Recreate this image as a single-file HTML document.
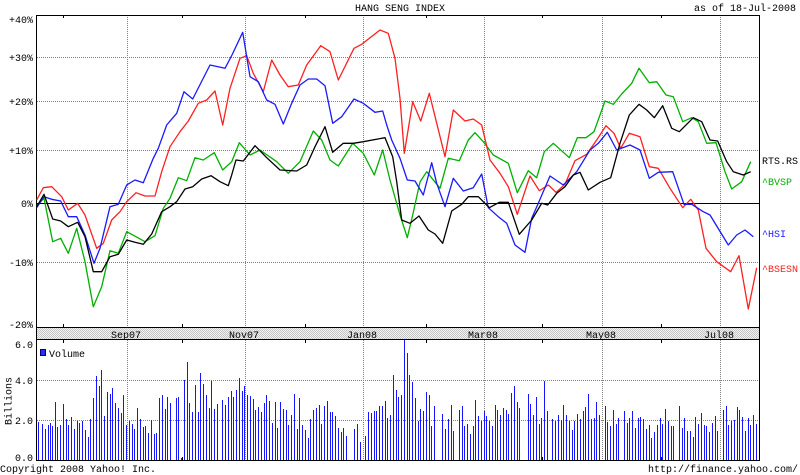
<!DOCTYPE html>
<html><head><meta charset="utf-8"><style>
html,body{margin:0;padding:0;background:#fff;}
svg{display:block;}
text{font-family:"Liberation Mono",monospace;font-size:10px;fill:#000;}
</style></head><body>
<svg width="800" height="475" viewBox="0 0 800 475" xmlns="http://www.w3.org/2000/svg">
<defs>
<pattern id="hatch" width="2" height="2" patternUnits="userSpaceOnUse">
<rect width="2" height="2" fill="#f2f2f2"/><rect width="1" height="1" fill="#c4c4c4"/><rect x="1" y="1" width="1" height="1" fill="#c4c4c4"/>
</pattern>
</defs>
<rect width="800" height="475" fill="#fff"/>
<text x="400" y="11" text-anchor="middle">HANG SENG INDEX</text>
<text x="796" y="11" text-anchor="end">as of 18-Jul-2008</text>

<!-- gridlines -->
<g stroke="#808080" stroke-width="1" stroke-dasharray="1,1" shape-rendering="crispEdges" fill="none">
<path d="M37 57.5H759M37 101.5H759M37 150.5H759M37 262.5H759"/>
<path d="M127.5 15V327M245.5 15V327M363.5 15V327M484.5 15V327M602.5 15V327M720.5 15V327"/>
<path d="M127.5 340V460M245.5 340V460M363.5 340V460M484.5 340V460M602.5 340V460M720.5 340V460"/>
<path d="M37 380.5H759M37 420.5H759"/>
</g>

<!-- date band -->
<rect x="36.5" y="327.5" width="723" height="12" fill="url(#hatch)"/>

<!-- zero line -->
<path d="M36 203.5H759" stroke="#000" stroke-width="1" shape-rendering="crispEdges"/>

<!-- frame -->
<g stroke="#000" stroke-width="1" fill="none" shape-rendering="crispEdges">
<path d="M36.5 15.5H759.5V460.5H36.5Z"/>
<path d="M36.5 327.5H759.5M36.5 339.5H759.5"/>
<path d="M63.5 15V18M182.5 15V18M305.5 15V18M426.5 15V18M542.5 15V18M661.5 15V18"/>
<path d="M63.5 324V327M182.5 324V327M305.5 324V327M426.5 324V327M542.5 324V327M661.5 324V327"/>
<path d="M63.5 340V343M182.5 340V343M305.5 340V343M426.5 340V343M542.5 340V343M661.5 340V343"/>
<path d="M63.5 457V460M182.5 457V460M305.5 457V460M426.5 457V460M542.5 457V460M661.5 457V460"/>
</g>

<!-- y labels -->
<g text-anchor="end">
<text x="33" y="23">+40%</text>
<text x="33" y="61">+30%</text>
<text x="33" y="105">+20%</text>
<text x="33" y="154">+10%</text>
<text x="33" y="207">0%</text>
<text x="33" y="266">-10%</text>
<text x="33" y="328">-20%</text>
<text x="33" y="348">6.0</text>
<text x="33" y="384">4.0</text>
<text x="33" y="424">2.0</text>
<text x="33" y="461">0.0</text>
</g>
<text transform="translate(11.5,401) rotate(-90)" text-anchor="middle">Billions</text>

<!-- date labels -->
<g text-anchor="middle">
<text x="126" y="338">Sep07</text>
<text x="244" y="338">Nov07</text>
<text x="362" y="338">Jan08</text>
<text x="483" y="338">Mar08</text>
<text x="601" y="338">May08</text>
<text x="719" y="338">Jul08</text>
</g>

<!-- volume bars -->
<path stroke="#1515ff" stroke-width="1" fill="none" shape-rendering="crispEdges" d="M38.5 460V422M42.5 460V424M45.5 460V429M48.5 460V425M50.5 460V423M52.5 460V426M55.5 460V402M57.5 460V427M60.5 460V425M63.5 460V404M66.5 460V419M68.5 460V425M71.5 460V417M74.5 460V429M77.5 460V421M79.5 460V423M82.5 460V421M85.5 460V430M88.5 460V437M90.5 460V419M93.5 460V398M96.5 460V376M99.5 460V386M101.5 460V370M104.5 460V416M107.5 460V392M110.5 460V394M112.5 460V388M115.5 460V403M118.5 460V408M121.5 460V413M123.5 460V395M126.5 460V425M129.5 460V421M132.5 460V424M134.5 460V429M137.5 460V408M140.5 460V419M143.5 460V427M145.5 460V426M148.5 460V433M151.5 460V420M154.5 460V434M156.5 460V433M159.5 460V398M162.5 460V395M165.5 460V409M167.5 460V397M170.5 460V403M176.5 460V398M178.5 460V397M181.5 460V458M184.5 460V380M187.5 460V362M189.5 460V403M192.5 460V412M195.5 460V385M198.5 460V412M200.5 460V373M203.5 460V384M206.5 460V395M209.5 460V408M211.5 460V381M214.5 460V409M217.5 460V404M222.5 460V400M225.5 460V405M228.5 460V397M231.5 460V391M233.5 460V397M236.5 460V390M239.5 460V378M242.5 460V391M244.5 460V386M247.5 460V395M250.5 460V396M253.5 460V399M255.5 460V410M258.5 460V407M261.5 460V412M264.5 460V403M266.5 460V395M269.5 460V401M272.5 460V423M275.5 460V402M277.5 460V428M280.5 460V402M283.5 460V409M286.5 460V410M288.5 460V425M291.5 460V415M294.5 460V394M297.5 460V429M299.5 460V398M302.5 460V425M305.5 460V430M308.5 460V438M310.5 460V419M313.5 460V410M316.5 460V408M319.5 460V405M321.5 460V424M324.5 460V406M327.5 460V401M330.5 460V412M332.5 460V412M335.5 460V416M338.5 460V428M341.5 460V432M343.5 460V428M346.5 460V436M354.5 460V429M357.5 460V424M360.5 460V442M365.5 460V436M368.5 460V412M371.5 460V413M374.5 460V411M376.5 460V411M379.5 460V406M382.5 460V406M385.5 460V401M387.5 460V418M390.5 460V415M393.5 460V375M396.5 460V390M398.5 460V397M401.5 460V395M404.5 460V340M407.5 460V353M409.5 460V375M412.5 460V382M415.5 460V398M418.5 460V421M420.5 460V409M423.5 460V411M426.5 460V392M429.5 460V395M431.5 460V426M434.5 460V406M442.5 460V414M445.5 460V429M448.5 460V419M451.5 460V405M453.5 460V431M459.5 460V410M462.5 460V406M464.5 460V426M467.5 460V424M470.5 460V434M473.5 460V426M475.5 460V400M478.5 460V416M481.5 460V421M484.5 460V411M486.5 460V416M489.5 460V421M492.5 460V426M495.5 460V405M497.5 460V410M500.5 460V415M503.5 460V408M506.5 460V410M508.5 460V414M511.5 460V393M514.5 460V386M517.5 460V402M519.5 460V408M528.5 460V394M530.5 460V404M533.5 460V415M536.5 460V397M539.5 460V424M541.5 460V418M544.5 460V381M547.5 460V411M552.5 460V419M555.5 460V421M558.5 460V415M561.5 460V420M563.5 460V405M566.5 460V415M569.5 460V421M572.5 460V430M574.5 460V421M577.5 460V414M580.5 460V419M583.5 460V411M585.5 460V407M588.5 460V394M591.5 460V419M594.5 460V418M596.5 460V402M599.5 460V415M605.5 460V406M607.5 460V422M610.5 460V426M613.5 460V410M616.5 460V424M618.5 460V418M624.5 460V411M627.5 460V423M629.5 460V418M632.5 460V411M635.5 460V428M638.5 460V418M640.5 460V417M643.5 460V419M646.5 460V429M649.5 460V425M651.5 460V438M654.5 460V432M657.5 460V425M660.5 460V418M662.5 460V424M665.5 460V409M668.5 460V421M671.5 460V426M673.5 460V426M679.5 460V406M682.5 460V428M684.5 460V418M687.5 460V431M690.5 460V431M693.5 460V437M695.5 460V417M698.5 460V424M701.5 460V413M704.5 460V425M706.5 460V426M709.5 460V432M712.5 460V423M715.5 460V416M717.5 460V431M723.5 460V410M726.5 460V406M728.5 460V425M731.5 460V421M734.5 460V420M737.5 460V407M739.5 460V410M742.5 460V417M745.5 460V431M748.5 460V418M750.5 460V425M753.5 460V415M756.5 460V424"/>

<!-- volume legend -->
<rect x="40.5" y="349.5" width="5" height="6" fill="#2a2aff" stroke="#000080" stroke-width="1" shape-rendering="crispEdges"/>
<text x="49" y="357">Volume</text>

<!-- series -->
<g fill="none" stroke-width="1.3" stroke-linejoin="round">
<polyline stroke="#00b000" points="36.7,205.7 44,198.3 52.7,241.7 60.7,238.3 68.3,253.3 76.7,228.3 85,261.7 93.3,306.7 101.7,286.7 110,250.7 118.3,253.3 126.7,231.7 136,236.7 145,241.7 155,235.7 163.3,208.3 170,198.3 178.3,177.7 186.7,180.7 195,157.7 203.3,160 214.3,152.7 222.7,170 231.7,161.7 239.3,142.7 250,155 260,150 276.7,161.7 288.3,173.3 300,161.7 313.3,131 321.7,140 330,160 338.3,166 352.7,143.3 363.3,153.3 374.3,175 382.7,150 390,180 400,215 407.3,237.7 412.7,215 420,182 426.7,171.7 440,188.3 448.3,158.3 459.3,160.7 468.3,140 475,132.7 483.3,141.7 493.3,155 508.3,163.3 517.3,192.7 528.3,170.7 536.7,177.7 544.3,151.7 553.3,143.3 569.3,157.7 577.3,137.7 586,137.7 594,131.7 605,101 613.3,104.3 621.7,94 631.7,83.3 639,68.3 649.3,82.7 656.7,81.7 666,95 673.3,96.7 682.7,121.7 691.7,117.7 698.3,121.7 706.7,143.3 716,142.7 725,171.7 731.7,189 741.7,181.7 750.7,161.7"/>
<polyline stroke="#ff2020" points="36.7,200 43.3,187.7 51.7,186.7 61.7,196.7 68.3,210 77.7,203.3 85,215 96.7,248.3 103.3,243.3 111.7,220 120,211.7 126.7,201.7 136,192.7 145,196 155,196 161.7,171.7 170,146.7 180,131.7 188.3,121 198.3,103.3 206.7,100 215,91 222.7,125 230,88.3 240,58.3 246.7,55.7 253.3,73.3 263.3,91.7 271.7,60 280,75 288.3,86.7 298.3,85 306.7,65 320.7,45.7 330,51.7 338.3,80 354,48.3 361.7,44.3 380,30 388.3,33.3 395,58.3 400,98.3 404.3,153.3 412.7,101.7 420.7,121 429.3,93.3 445,156.7 453.3,110 465,121 473.3,119 481.7,125 490,160 500,173.3 508.3,186.7 517.3,214.3 530,176 539.3,190.7 548.3,185 556,192.3 565,184.3 575,160.7 586.7,154.3 596.7,140 606,125.7 614,133.3 620.7,148.3 629.3,133.3 640,136.7 649.3,166.7 658.3,168.3 670,188.3 682.7,207.7 690.7,199.3 698.3,210 706,248.3 716.7,261.7 730.7,271.7 739,255.7 748.3,309 756.7,267.7"/>
<polyline stroke="#1a1aff" points="36.7,207.7 44,196.7 51.7,199.3 60.7,201 68.3,216.7 76.7,216.7 85,235 94,263.3 100,248.3 110,206.7 118.3,204.3 126.7,185 135,180 143.3,182.7 153.3,158.3 158.3,148.3 166.7,125 176.7,113.3 184,91.7 192.7,99 210,65 225,68.3 232,55 242.7,32.3 250,76.7 258.3,81.7 266.7,100 275,104.3 283.3,124 291.7,103.3 300,85 308.3,79 316.7,79 325,85.7 332.7,123.3 341.7,116.7 354,99 363.3,103.3 375,112.3 382.7,111 386.7,125 391.7,140 400,158.3 407.3,180 415,181 423.3,195 431.7,162.7 436.7,183.3 445,206.7 453.3,178.3 463.3,191 473.3,187.7 481.7,174 488.3,207.7 498.3,216.7 506.7,223.3 515,245 525,252.3 531.7,218.3 538.3,203.3 550,176 563.3,185 576.7,171.7 590,150 598.3,143.3 607.3,132.3 616.7,150 630,145 640,150 649.3,178.3 658.3,172.3 672.7,171.7 684,204.3 691.7,204.3 703.3,211.7 710,215 728.3,245 736.7,235 745,230 753.3,236.7"/>
<polyline stroke="#000" points="36.7,206.7 44,194.3 52.7,219 60.7,221 68.3,226.7 77.7,222.3 85,236.7 93.3,271.7 101.7,271.7 110,256.7 118.3,254.3 126.7,240 135,242.3 143.3,244.3 151.7,234 161.7,211.7 170,206.7 176.7,201.7 185,189 192.7,186.7 201.7,179 211,175.7 220,181.7 228.3,185.7 231.7,175 236,160 243.3,161 255,145.7 266.7,157.7 280,170 296.7,171 306.7,165 315,146.7 325,126.7 332.7,152.3 343.3,143.3 353.3,143.3 363.3,141.7 385,137.7 392.7,156.7 396.7,181.7 401.7,220 410,223.3 419,216 428.3,230 435,234 442.7,243.3 451.7,211 461.7,204.3 468.3,196.7 478.3,196.7 489.3,207.7 499.3,202.3 508.3,202.3 519.3,234.3 531.7,220 541.7,203.3 547.7,205 556.7,193.3 565,186.7 573.3,175 580,172.3 588.3,190 600,182.3 610.7,177.7 620,143.3 629.3,115 639,104.3 646.7,110 654.3,117.7 662.7,105.7 671.7,128.3 679.3,131.7 693.3,117.7 701.7,121.7 710,140 717.7,141 726.7,161.7 733.3,171.7 743.3,175 750.7,171.7"/>
</g>

<!-- series labels -->
<text x="762" y="164" style="fill:#000">RTS.RS</text>
<text x="762" y="185" style="fill:#00b000">^BVSP</text>
<text x="762" y="237" style="fill:#1a1aff">^HSI</text>
<text x="762" y="272" style="fill:#ff2020">^BSESN</text>

<text x="0" y="472">Copyright 2008 Yahoo! Inc.</text>
<text x="798" y="472" text-anchor="end">http://finance.yahoo.com/</text>
</svg>
</body></html>
